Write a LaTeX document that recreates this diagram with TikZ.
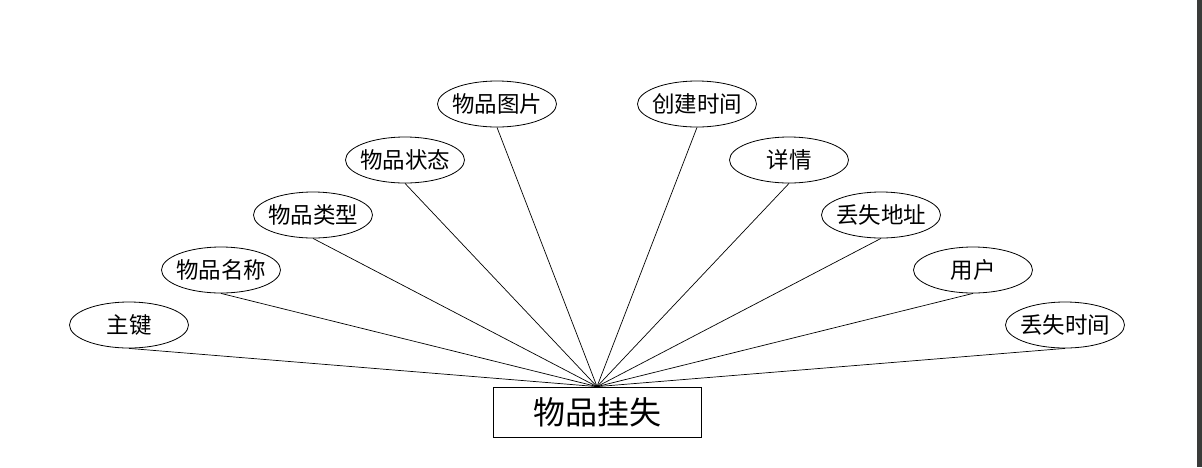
\documentclass[tikz,border=0pt]{standalone}
\usepackage{fontspec}
\newfontfamily\cjk{Noto Sans CJK SC}
\usetikzlibrary{shapes.geometric}
\definecolor{barcol}{HTML}{3A3B39}
\newcommand{\fixw}[1]{\makebox[0pt]{#1}}
\begin{document}
\begin{tikzpicture}[x=1pt,y=-1pt,
  attr/.style={ellipse,draw,line width=0.8pt,fill=white,minimum width=119pt,minimum height=46pt,inner sep=0pt,font=\cjk\fontsize{22.5}{22.5}\selectfont},
  ent/.style={rectangle,draw,line width=0.8pt,fill=white,minimum width=208pt,minimum height=50pt,inner sep=0pt,font=\cjk\fontsize{32}{32}\selectfont},
  link/.style={line width=0.7pt}]
\useasboundingbox (0,0) rectangle (1202,467);
\fill[white] (0,0) rectangle (1202,467);
\fill[barcol] (1197,0) rectangle (1202,467);
\node[ent] (e) at (597,412) {物品挂失};
\node[attr] (a1) at (129,325) {\fixw{主键}};
\node[attr] (a2) at (221,270) {\fixw{物品名称}};
\node[attr] (a3) at (313,215) {\fixw{物品类型}};
\node[attr] (a4) at (405,160) {\fixw{物品状态}};
\node[attr] (a5) at (497,104) {\fixw{物品图片}};
\node[attr] (a6) at (697,104) {\fixw{创建时间}};
\node[attr] (a7) at (789,160) {\fixw{详情}};
\node[attr] (a8) at (881,215) {\fixw{丢失地址}};
\node[attr] (a9) at (973,270) {\fixw{用户}};
\node[attr] (a10) at (1065,325) {\fixw{丢失时间}};
\foreach \i in {1,...,10}{\draw[link] (a\i.south) -- (e.north);}
\end{tikzpicture}
\end{document}
